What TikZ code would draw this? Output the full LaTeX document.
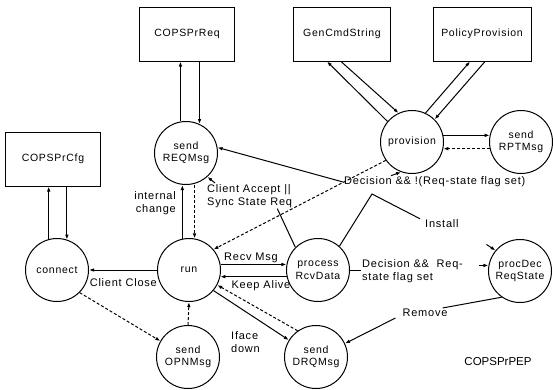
\documentclass[tikz,border=0pt]{standalone}
\usepackage{fontspec}
\setmainfont{Liberation Sans}[LetterSpace=7]
\usetikzlibrary{positioning,arrows.meta}

\begin{document}
\begin{tikzpicture}[
    x=1pt, y=-1pt,
    node distance=65pt,
    every node/.style={font=\fontsize{11}{13}\selectfont},
    state/.style={draw, circle, line width=1pt, minimum size=63pt, inner sep=0pt, align=center,
                  font=\fontsize{10.5}{12.5}\selectfont},
    box/.style={draw, line width=1pt, minimum width=95pt, minimum height=54pt,
                font=\fontsize{10.5}{12.5}\selectfont},
    lbl/.style={inner sep=1pt, align=left},
    arr/.style={line width=1pt, -{Latex[length=5pt,width=3.6pt]}},
    dasharr/.style={arr, densely dashed},
    plain/.style={line width=1pt}
]
\useasboundingbox (0,0) rectangle (553,389);

% 上方方框
\node[box] (req) at (187,34) {COPSPrReq};
\node[box, minimum width=97pt] (gen) at (342,34) {GenCmdString};
\node[box, minimum width=98pt] (pol) at (482,34) {PolicyProvision};
\node[box] (cfg) at (53,159) {COPSPrCfg};

% 状态节点
\node[state] (sendreq) at (186,153) {send\\REQMsg};
\node[state] (prov) at (412,142) {provision};
\node[state, right=45pt of prov] (rpt) {send\\RPTMsg};
\node[state] (conn) at (57,270) {connect};
\node[state, right=68pt of conn] (run) {run};
\node[state, right=of run] (proc) {process\\RcvData};
\node[state] (procdec) at (520,271) {procDec\\ReqState};
\node[state] (opn) at (188,357) {send\\OPNMsg};
\node[state] (drq) at (316,357) {send\\DRQMsg};
\node[font=\fontsize{11.5}{14}\selectfont\addfontfeatures{LetterSpace=0}] (pep) at (498,362) {COPSPrPEP};

% 标签
\node[lbl, align=right, anchor=east] (chg) at (177,203) {internal\\change};
\node[lbl, anchor=north west] (cacc) at (206,183) {Client Accept ||\\Sync State Req};
\node[lbl, anchor=west] (dec1) at (343,182) {Decision \&\& !(Req-state flag set)};
\node[lbl, anchor=west] (inst) at (424,224) {Install};
\node[lbl, anchor=south] (recv) at (251,264) {Recv Msg};
\node[lbl, anchor=north east] (close) at (158,277) {Client Close};
\node[lbl, anchor=north] (keep) at (261,279) {Keep Alive};
\node[lbl, anchor=west] (dec2) at (361,271) {Decision \&\&\ \ Req-\\state flag set};
\node[lbl] (remove) at (425,313) {Remove};
\node[lbl, anchor=west] (iface) at (230,342) {Iface\\down};

% 方框连线
\draw[arr] (sendreq.100) -- (sendreq.100 |- req.south);
\draw[arr] (sendreq.65 |- req.south) -- (sendreq.65);
\draw[arr] (conn.105) -- (conn.105 |- cfg.south);
\draw[arr] (conn.72 |- cfg.south) -- (conn.72);
\draw[arr] (prov.140) -- ([xshift=-15pt]gen.south);
\draw[arr] ([xshift=-1pt]gen.south) -- (prov.115);
\draw[arr] (prov.65) -- ([xshift=-12pt]pol.south);
\draw[arr] ([xshift=3pt]pol.south) -- (prov.45);
\draw[arr] (prov.12) -- (rpt.168);
\draw[dasharr] (rpt.192) -- (prov.-12);

% run 周围
\draw[arr] (run.102) -- (run.102 |- sendreq.south);
\draw[dasharr] (sendreq.south -| run.80) -- (run.80);
\draw[arr] (run.west) -- (conn.east);
\draw[dasharr] (conn.-45) -- (opn.150);
\draw[dasharr] (opn.north) -- (run.south);
\draw[arr] (run.10) -- (proc.170);
\draw[arr] (proc.192) -- (run.-12);
\draw[arr] (run.-40) -- (drq.148);
\draw[dasharr] (drq.125) -- (run.-28);
\draw[dasharr] (prov.215) -- (run.40);

% process 出发
\coordinate (knee) at (372,194);
\draw[plain] (proc.135) -- ([xshift=-16pt]cacc.south east);
\draw[arr] ([xshift=9pt]cacc.north west) -- (sendreq.-48);
\draw[plain] (proc.48) -- (knee) -- ([xshift=-4pt]inst.north west);
\draw[arr] ([xshift=48pt]dec1.north west) -- (prov.250);
\draw[arr] (dec1.west) -- (sendreq.10);
\draw[arr] ([shift={(-9pt,6pt)}]procdec.140) -- (procdec.140);
\draw[plain] (proc.east) -- (proc.east -| dec2.west);
\draw[arr] ([xshift=-9pt]procdec.170) -- (procdec.170);

% Remove
\draw[plain] (procdec.235) -- ([xshift=-6pt]remove.north east);
\draw[arr] ([xshift=-6pt]remove.south west) -- (drq.25);

\end{tikzpicture}
\end{document}
